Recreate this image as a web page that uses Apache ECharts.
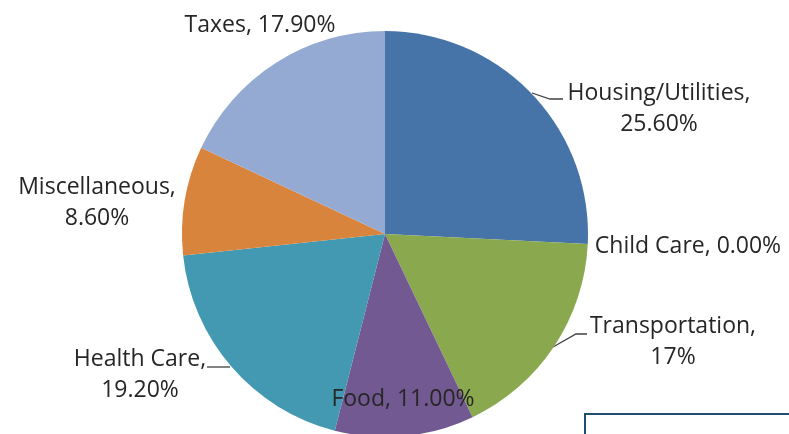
<!DOCTYPE html>
<html>
<head>
<meta charset="utf-8">
<script src="https://cdn.jsdelivr.net/npm/echarts@6/dist/echarts.min.js"></script>
<style>
  html, body { margin: 0; padding: 0; background: #fff; }
  #chart { width: 789px; height: 434px; }
</style>
</head>
<body>
<div id="chart"></div>
<script>
// 数据
var categories = ['Housing/Utilities', 'Child Care', 'Transportation', 'Food', 'Health Care', 'Miscellaneous', 'Taxes'];
var values = [25.6, 0, 17, 11, 19.2, 8.6, 17.9];
var shownPct = ['25.60%', '0.00%', '17%', '11.00%', '19.20%', '8.60%', '17.90%'];
var twoLine = ['Housing/Utilities', 'Transportation', 'Health Care', 'Miscellaneous'];

var colors = ['#4674a8', '#8aa84e', '#8aa84e', '#735991', '#4299b1', '#d9843c', '#94aad3'];

// 标签位置 (中心点) 和引导线
var labelPos = [[659, 109], [688, 246], [673, 342], [403, 399], [140, 375], [97, 203], [260, 25]];
var leaderLines = {
  0: [[532, 93], [550, 99], [563, 99]],
  2: [[553, 347], [576, 334], [587, 334]],
  4: [[230, 367], [207, 367]]
};

var chart = echarts.init(document.getElementById('chart'));

var data = categories.map(function (name, i) {
  return {
    name: name,
    value: values[i],
    itemStyle: { color: colors[i] },
    labelLine: { show: leaderLines[i] !== undefined }
  };
});

var option = {
  animation: false,
  series: [{
    type: 'pie',
    center: [385, 234],
    radius: 203,
    startAngle: 90,
    clockwise: true,
    data: data,
    itemStyle: { borderWidth: 0 },
    label: {
      show: true,
      position: 'outside',
      overflow: 'none',
      color: '#262626',
      fontFamily: 'Open Sans',
      fontSize: 23,
      lineHeight: 31,
      align: 'center',
      formatter: function (p) {
        var sep = twoLine.indexOf(p.name) >= 0 ? ',\n' : ', ';
        return p.name + sep + shownPct[p.dataIndex];
      }
    },
    labelLine: {
      show: true,
      lineStyle: { color: '#404040', width: 1.3 }
    },
    emphasis: { disabled: true }
  }],
  graphic: [{
    type: 'rect',
    shape: { x: 585, y: 414, width: 220, height: 40 },
    style: { fill: '#fff', stroke: '#1f4e6e', lineWidth: 2 }
  }]
};

option.series[0].labelLayout = function (params) {
  var i = params.dataIndex;
  var out = {
    x: labelPos[i][0],
    y: labelPos[i][1],
    align: 'center',
    verticalAlign: 'middle'
  };
  if (leaderLines[i]) {
    out.labelLinePoints = leaderLines[i];
  }
  return out;
};

chart.setOption(option);
</script>
</body>
</html>
